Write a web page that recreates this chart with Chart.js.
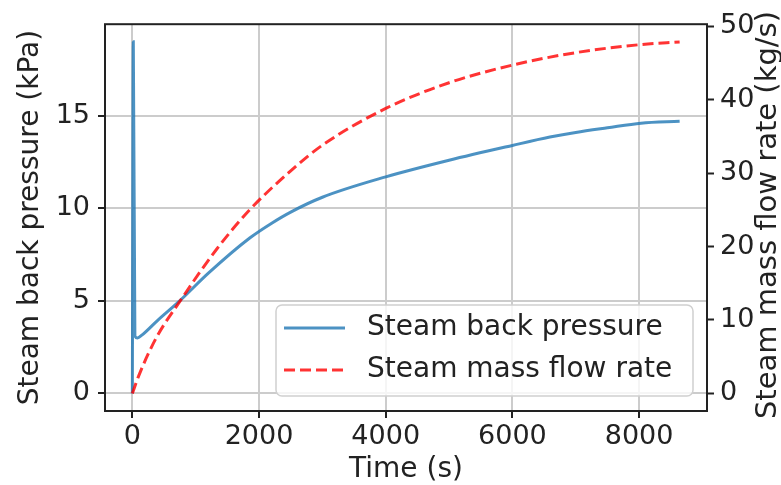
<!DOCTYPE html>
<html>
<head>
<meta charset="utf-8">
<script src="https://cdn.jsdelivr.net/npm/chart.js@4.4.1/dist/chart.umd.min.js"></script>
<style>
  html, body { margin: 0; padding: 0; background: #fff; }
  #wrap { width: 781px; height: 485px; }
</style>
</head>
<body>
<div id="wrap"><canvas id="steamChart" width="781" height="485"></canvas></div>
<script>
// back pressure (kPa) vs time (s)
const pressureTime = [0, 15, 40, 80, 150, 400, 747, 1200, 1853, 2200, 2500, 3000, 4000, 5000, 6000, 6592, 7000, 7500, 8030, 8640];
const backPressure = [0, 19.0, 3.1, 3.0, 3.15, 3.95, 5.0, 6.5, 8.4, 9.2, 9.8, 10.6, 11.7, 12.6, 13.4, 13.85, 14.1, 14.35, 14.6, 14.7];

// mass flow rate (kg/s) vs time (s)
const flowTime = [0, 100, 379, 747, 1327, 1853, 2500, 3000, 4000, 5000, 6000, 7000, 8030, 8640];
const massFlow = [0, 2.4, 7.6, 12.5, 19.6, 25.0, 30.3, 33.8, 38.8, 42.3, 44.7, 46.4, 47.5, 47.86];

const xTicks = [0, 2000, 4000, 6000, 8000];
const leftTicks = [0, 5, 10, 15];
const rightTicks = [0, 10, 20, 30, 40, 50];

const blue = "rgba(31, 119, 180, 0.8)";
const red = "rgba(255, 0, 0, 0.8)";
const ink = "#222";
const family = "DejaVu Sans";

function toPoints(xs, ys) {
  return xs.map((x, i) => ({ x: x, y: ys[i] }));
}

// frame, right axis title and in-plot legend
const decorations = {
  id: "decorations",
  afterDatasetsDraw(chart) {
    const { ctx, chartArea: a } = chart;
    ctx.save();
    ctx.strokeStyle = ink;
    ctx.lineWidth = 2;
    ctx.strokeRect(a.left, a.top, a.right - a.left, a.bottom - a.top);

    ctx.font = "29px '" + family + "'";
    ctx.fillStyle = ink;
    ctx.translate(768, 215);
    ctx.rotate(-Math.PI / 2);
    ctx.textAlign = "center";
    ctx.textBaseline = "middle";
    ctx.fillText("Steam mass flow rate (kg/s)", 0, 0);
    ctx.restore();

    // legend box
    const bx = 276, by = 305, bw = 417, bh = 91;
    ctx.save();
    ctx.beginPath();
    ctx.roundRect(bx, by, bw, bh, 6);
    ctx.fillStyle = "rgba(255,255,255,0.8)";
    ctx.fill();
    ctx.strokeStyle = "#d0d0d0";
    ctx.lineWidth = 1.5;
    ctx.stroke();

    const rows = [328, 370];
    chart.data.datasets.forEach((ds, i) => {
      ctx.beginPath();
      ctx.strokeStyle = ds.borderColor;
      ctx.lineWidth = ds.borderWidth;
      ctx.setLineDash(ds.borderDash || []);
      ctx.moveTo(284, rows[i]);
      ctx.lineTo(345, rows[i]);
      ctx.stroke();
      ctx.setLineDash([]);
      ctx.fillStyle = ink;
      ctx.font = "28px '" + family + "'";
      ctx.textAlign = "left";
      ctx.textBaseline = "middle";
      ctx.fillText(ds.label, 367, rows[i]);
    });
    ctx.restore();
  },
};

const ctx = document.getElementById("steamChart").getContext("2d");
new Chart(ctx, {
  type: "line",
  data: {
    datasets: [
      {
        label: "Steam back pressure",
        data: toPoints(pressureTime, backPressure),
        yAxisID: "y",
        borderColor: blue,
        borderWidth: 3,
        pointRadius: 0,
        cubicInterpolationMode: "monotone",
        order: 1,
      },
      {
        label: "Steam mass flow rate",
        data: toPoints(flowTime, massFlow),
        yAxisID: "y2",
        borderColor: red,
        borderWidth: 3,
        borderDash: [11, 5],
        pointRadius: 0,
        cubicInterpolationMode: "monotone",
        order: 0,
      },
    ],
  },
  options: {
    responsive: false,
    animation: false,
    layout: { padding: { top: 17, left: 0, right: 0, bottom: 0 } },
    plugins: {
      legend: { display: false },
      tooltip: { enabled: false },
    },
    scales: {
      x: {
        type: "linear",
        min: -432,
        max: 9072,
        afterFit: (s) => { s.height = 74; },
        afterBuildTicks: (s) => { s.ticks = xTicks.map((v) => ({ value: v })); },
        ticks: {
          color: ink,
          font: { family: family, size: 27 },
          padding: 3,
          maxRotation: 0,
          callback: (v) => String(v),
        },
        grid: { color: "#cccccc", lineWidth: 2, tickLength: 7, tickColor: ink, tickWidth: 2 },
        border: { display: false },
        title: {
          display: true,
          text: "Time (s)",
          color: ink,
          font: { family: family, size: 28, lineHeight: 1 },
          padding: { top: 0, bottom: 1 },
        },
      },
      y: {
        position: "left",
        min: -0.95,
        max: 19.95,
        afterFit: (s) => { s.width = 105; },
        afterBuildTicks: (s) => { s.ticks = leftTicks.map((v) => ({ value: v })); },
        ticks: { color: ink, font: { family: family, size: 27 }, padding: 8 },
        grid: { color: "#cccccc", lineWidth: 2, tickLength: 7, tickColor: ink, tickWidth: 2 },
        border: { display: false },
        title: {
          display: true,
          text: "Steam back pressure (kPa)",
          color: ink,
          font: { family: family, size: 28, lineHeight: 1 },
          padding: { top: 17, bottom: 0 },
        },
      },
      y2: {
        position: "right",
        min: -2.39,
        max: 50.27,
        afterFit: (s) => { s.width = 74; },
        afterBuildTicks: (s) => { s.ticks = rightTicks.map((v) => ({ value: v })); },
        ticks: { color: ink, font: { family: family, size: 27 }, padding: 6 },
        grid: { drawOnChartArea: false, tickLength: 7, tickColor: ink, tickWidth: 2 },
        border: { display: false },
      },
    },
  },
  plugins: [decorations],
});
</script>
</body>
</html>
